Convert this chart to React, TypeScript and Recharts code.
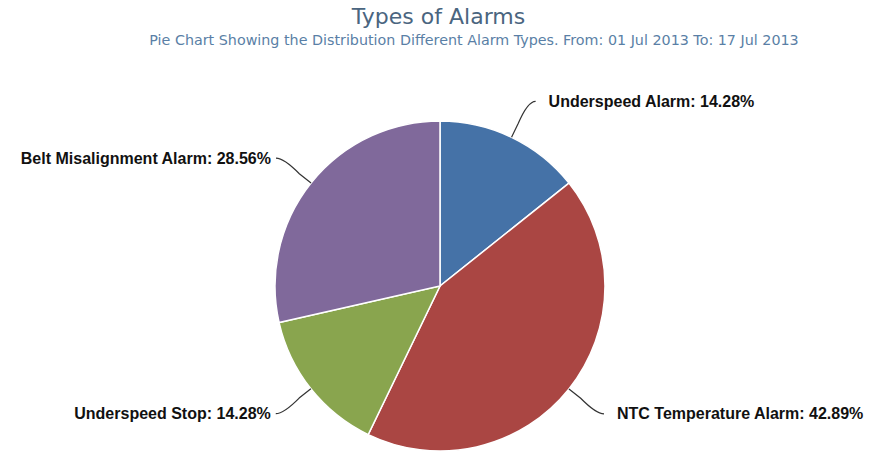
import React from 'react';
import { PieChart, Pie, Cell } from 'recharts';

const categories = ['Underspeed Alarm', 'NTC Temperature Alarm', 'Underspeed Stop', 'Belt Misalignment Alarm'];
const shares = [14.28, 42.89, 14.28, 28.56];
const colors = ['#4572A7', '#AA4643', '#89A54E', '#80699B'];
const titleText = 'Types of Alarms';
const subtitleText = 'Pie Chart Showing the Distribution Different Alarm Types. From: 01 Jul 2013 To: 17 Jul 2013';

const data = categories.map((name, i) => ({ name, value: shares[i] }));

const RAD = Math.PI / 180;

const renderLabel = (props: any) => {
  const { cx, cy, midAngle, outerRadius, name, value } = props;
  const dx = Math.cos(-midAngle * RAD);
  const dy = Math.sin(-midAngle * RAD);
  const sign = dx >= 0 ? 1 : -1;
  const ex = cx + outerRadius * dx;
  const ey = cy + outerRadius * dy;
  const mx = cx + (outerRadius + 15) * dx;
  const my = cy + (outerRadius + 15) * dy;
  const Ry = outerRadius + 40;
  const Rx = outerRadius + 43;
  const endY = cy + Ry * dy;
  const off = endY - cy;
  const endX = cx + sign * Math.sqrt(Math.max(0, Rx * Rx - off * off));
  const bx = endX - sign * 8;
  const tx = endX + sign * (sign > 0 ? 13 : 5);
  return (
    <g>
      <path
        d={`M${ex},${ey} L${mx},${my} Q${bx},${endY} ${endX},${endY}`}
        stroke="#333"
        strokeWidth={1.2}
        fill="none"
      />
      <text
        x={tx}
        y={endY}
        textAnchor={sign > 0 ? 'start' : 'end'}
        dominantBaseline="central"
        fontFamily="'Liberation Sans', Arial, sans-serif"
        fontWeight="bold"
        fontSize={16}
        fill="#111"
      >
        {`${name}: ${value.toFixed(2)}%`}
      </text>
    </g>
  );
};

export default function App() {
  return (
    <div style={{ position: 'absolute', left: 0, top: 0, width: 871, height: 451, background: '#fff' }}>
      <div
        style={{
          position: 'absolute',
          left: 0,
          top: 4,
          width: 877,
          textAlign: 'center',
          fontFamily: "'DejaVu Sans', sans-serif",
          fontSize: 22,
          color: '#4a6580',
          lineHeight: '26px',
        }}
      >
        {titleText}
      </div>
      <div
        style={{
          position: 'absolute',
          left: 0,
          top: 31,
          width: 948,
          textAlign: 'center',
          fontFamily: "'DejaVu Sans', sans-serif",
          fontSize: 14.3,
          color: '#5a7fa6',
          lineHeight: '18px',
        }}
      >
        {subtitleText}
      </div>
      <PieChart
        width={871}
        height={451}
        margin={{ top: 0, right: 0, bottom: 0, left: 0 }}
        style={{ position: 'absolute', left: 0, top: 0 }}
      >
        <Pie
          data={data}
          dataKey="value"
          nameKey="name"
          cx={440}
          cy={286}
          outerRadius={165}
          startAngle={90}
          endAngle={-270}
          stroke="#ffffff"
          strokeWidth={1.5}
          label={renderLabel}
          labelLine={false}
          isAnimationActive={false}
        >
          {data.map((d, i) => (
            <Cell key={d.name} fill={colors[i]} />
          ))}
        </Pie>
      </PieChart>
    </div>
  );
}
